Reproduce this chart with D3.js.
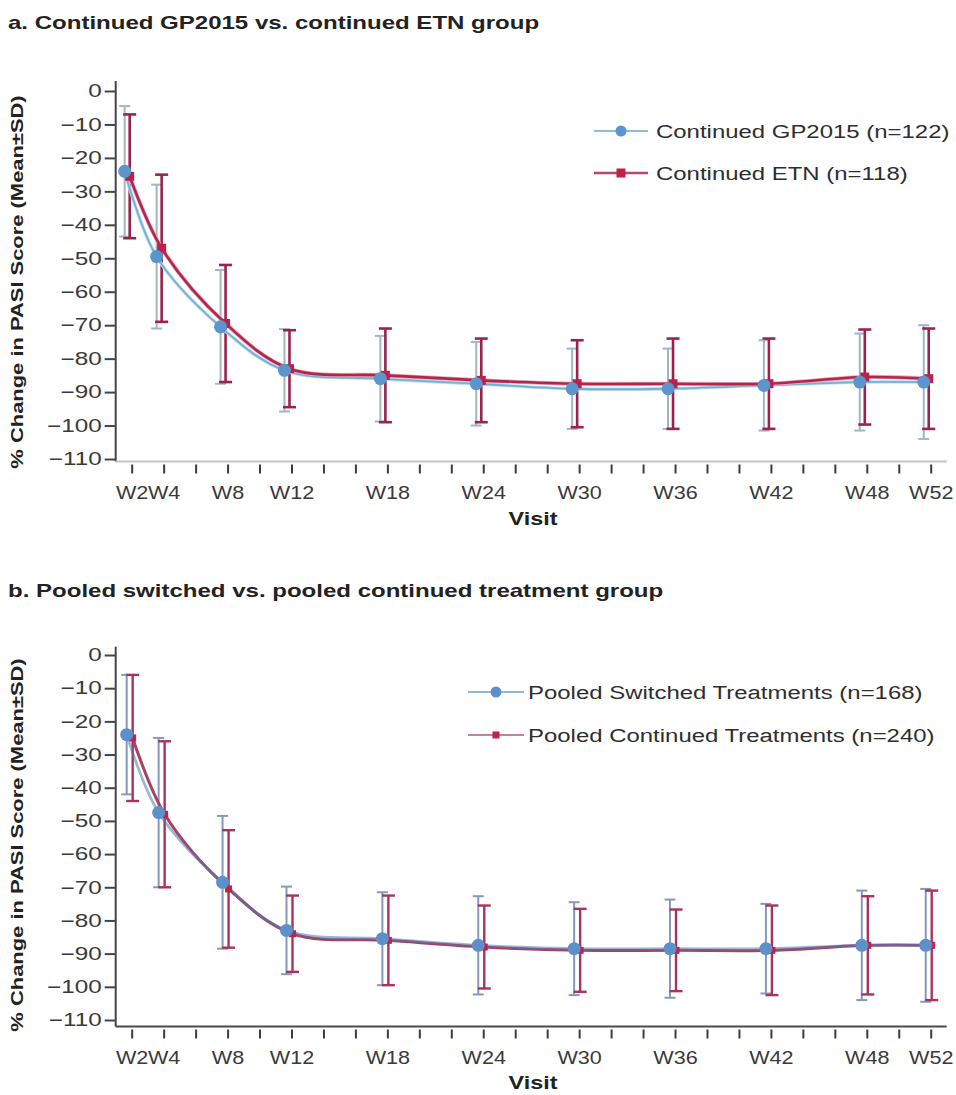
<!DOCTYPE html>
<html>
<head>
<meta charset="utf-8">
<script src="https://cdn.jsdelivr.net/npm/d3@7"></script>
<style>
  body { margin: 0; background: #fff; }
  svg { display: block; }
  text { font-family: "Liberation Sans", Arial, Helvetica, sans-serif; }
</style>
</head>
<body>
<svg id="chart" width="956" height="1095"></svg>
<script>
// ---- data ----
const visitLabels = ["W2", "W4", "W8", "W12", "W18", "W24", "W30", "W36", "W42", "W48", "W52"];
const visitWeeks = [2, 4, 8, 12, 18, 24, 30, 36, 42, 48, 52];
const yTickValues = [0, -10, -20, -30, -40, -50, -60, -70, -80, -90, -100, -110];

// a. Continued GP2015 vs. continued ETN
const gp2015Mean = [-24, -49.5, -70.5, -83.5, -86, -87.5, -89, -89, -88, -87, -87];
const gp2015SD   = [19.5, 21.5, 17, 12.3, 12.8, 12.5, 12, 12, 13.5, 14.5, 17];
const etnMean    = [-25.5, -47, -69.5, -83, -85, -86.5, -87.5, -87.5, -87.5, -85.5, -86];
const etnSD      = [18.5, 22, 17.5, 11.5, 14, 12.5, 13, 13.5, 13.5, 14.2, 15];

// b. Pooled switched vs. pooled continued
const switchedMean  = [-24, -47.5, -68.5, -83, -85.5, -87.5, -88.5, -88.5, -88.5, -87.5, -87.5];
const switchedSD    = [18, 22.5, 20, 13.2, 14, 14.8, 14, 14.8, 13.5, 16.5, 17];
const continuedMean = [-25, -48, -70.5, -84, -86, -88, -89, -89, -89, -87.5, -87.5];
const continuedSD   = [19, 22, 17.7, 11.5, 13.5, 12.5, 12.5, 12.3, 13.5, 14.8, 16.5];

const panelTitles = [
  "a. Continued GP2015 vs. continued ETN group",
  "b. Pooled switched vs. pooled continued treatment group"
];
const legendA = ["Continued GP2015 (n=122)", "Continued ETN (n=118)"];
const legendB = ["Pooled Switched Treatments (n=168)", "Pooled Continued Treatments (n=240)"];
const yAxisTitle = "% Change in PASI Score (Mean\u00B1SD)";
const xAxisTitle = "Visit";

// ---- drawing ----
const svg = d3.select("#chart");
svg.append("rect").attr("width", 956).attr("height", 1095).attr("fill", "#fff");

// Helvetica-like wide lettering: Liberation Sans widened along the text direction
function label(g, x, y, txt, o = {}) {
  const rot = o.rotate ? ` rotate(${o.rotate})` : "";
  return g.append("text")
    .attr("transform", `translate(${x},${y})${rot} scale(${o.sx || 1.28},1)`)
    .attr("text-anchor", o.anchor || "start")
    .attr("dy", o.dy || null)
    .attr("font-size", o.size || 18)
    .attr("font-weight", o.weight || "normal")
    .attr("fill", o.fill || "#333")
    .text(txt);
}

const x = d3.scaleLinear().domain([1, 53]).range([115.7, 946.7]);

const rows = (means, sds) => visitWeeks.map((w, i) => ({ w, m: means[i], sd: sds[i] }));

const panels = [
  {
    title: panelTitles[0], titleY: 29,
    y0: 91, y110: 459, xAxisY: 461.5, yTopVal: 3,
    xAxisColor: "#c4c4c4",
    legend: { x1: 594, x2: 648, tx: 656, ys: [131, 173] },
    legendText: legendA,
    blue: { data: rows(gp2015Mean, gp2015SD), dx: -7, line: "#72b0da", lineW: 1.8,
            halo: "#bcdcef", bar: "#a4b2cc", barW: 2, cap: 11, marker: "#5b95cc",
            legLine: "#6fa0d0", legLineW: 1.6 },
    red:  { data: rows(etnMean, etnSD), dx: -2, line: "#b2264b", lineW: 2.6,
            halo: "#e6aabb", bar: "#9a2449", barW: 2.6, cap: 13, marker: "#c01f48",
            legLine: "#b44a66", legLineW: 2.6, sq: 9 },
    yLabelCy: 282, xTitleY: 525
  },
  {
    title: panelTitles[1], titleY: 597,
    y0: 655, y110: 1020, xAxisY: 1026.5, yTopVal: 2.5,
    xAxisColor: "#4a4a4a",
    legend: { x1: 468, x2: 524, tx: 528, ys: [692, 735] },
    legendText: legendB,
    blue: { data: rows(switchedMean, switchedSD), dx: -5, line: "#4f78b4", lineW: 2.8,
            halo: null, bar: "#8798bd", barW: 2, cap: 11, marker: "#5b90cb",
            legLine: "#6c9ccf", legLineW: 1.5, opacity: 0.55 },
    red:  { data: rows(continuedMean, continuedSD), dx: 1, line: "#a6435f", lineW: 3,
            halo: null, bar: "#a8345a", barW: 2.4, cap: 13, marker: "#c0234a",
            legLine: "#b05a70", legLineW: 1.5, sq: 7 },
    yLabelCy: 845, xTitleY: 1089
  }
];

panels.forEach((p, pi) => {
  const g = svg.append("g");
  const y = d3.scaleLinear().domain([-110, 0]).range([p.y110, p.y0]);

  // panel title
  label(g, 8, p.titleY, p.title, { size: 18, weight: "bold", fill: "#222", sx: 1.335 });

  // y axis
  const yAxis = g.append("g").attr("transform", `translate(${x(1)},0)`)
    .call(d3.axisLeft(y).tickValues(yTickValues).tickSize(11).tickPadding(3)
      .tickFormat(d => d === 0 ? "0" : "\u2212" + Math.abs(d)));
  yAxis.select(".domain").remove();
  yAxis.selectAll(".tick line").attr("stroke", "#444").attr("stroke-width", 2);
  yAxis.selectAll(".tick text")
    .attr("font-size", 18).attr("fill", "#3a3a3a").attr("font-family", null)
    .each(function () {
      const t = d3.select(this);
      const sx = 1.35;
      t.attr("x", +t.attr("x") / sx).attr("transform", `scale(${sx},1)`);
    });
  g.append("line")
    .attr("x1", x(1)).attr("x2", x(1))
    .attr("y1", y(p.yTopVal)).attr("y2", p.xAxisY)
    .attr("stroke", "#444").attr("stroke-width", 2);

  // x axis
  const weekTicks = d3.range(2, 53, 2);
  const xAxis = g.append("g").attr("transform", `translate(0,${p.xAxisY})`)
    .call(d3.axisBottom(x).tickValues(weekTicks).tickSize(12)
      .tickFormat(w => { const i = visitWeeks.indexOf(w); return i >= 0 ? visitLabels[i] : ""; }));
  xAxis.select(".domain").remove();
  xAxis.selectAll(".tick line").attr("y1", 3).attr("stroke", "#3c3c3c").attr("stroke-width", 2);
  xAxis.selectAll(".tick text")
    .attr("y", 25).attr("font-size", 18).attr("fill", "#3a3a3a").attr("font-family", null)
    .attr("transform", "scale(1.2,1)");
  g.append("line")
    .attr("x1", x(1)).attr("x2", x(53))
    .attr("y1", p.xAxisY).attr("y2", p.xAxisY)
    .attr("stroke", p.xAxisColor).attr("stroke-width", 2);

  // axis titles
  label(g, 533, p.xTitleY, xAxisTitle, { size: 18, weight: "bold", anchor: "middle", fill: "#222", sx: 1.3 });
  label(g, 17, p.yLabelCy, yAxisTitle, { size: 17, weight: "bold", anchor: "middle", rotate: -90, dy: "0.35em", fill: "#222", sx: 1.29 });

  const series = [p.blue, p.red];

  // error bars (blue first, red over it)
  series.forEach(s => {
    const eb = g.append("g").attr("stroke", s.bar).attr("stroke-width", s.barW);
    s.data.forEach(d => {
      const cx = x(d.w) + s.dx;
      eb.append("line").attr("x1", cx).attr("x2", cx).attr("y1", y(d.m + d.sd)).attr("y2", y(d.m - d.sd));
      [d.m + d.sd, d.m - d.sd].forEach(v => {
        eb.append("line").attr("x1", cx - s.cap / 2).attr("x2", cx + s.cap / 2).attr("y1", y(v)).attr("y2", y(v));
      });
    });
  });

  // lines
  const lineGen = s => d3.line().curve(d3.curveCatmullRom.alpha(0.5))
    .x(d => x(d.w) + s.dx).y(d => y(d.m))(s.data);
  const draw = (s, op) => {
    if (s.halo) {
      g.append("path").attr("d", lineGen(s)).attr("fill", "none")
        .attr("stroke", s.halo).attr("stroke-width", s.lineW + 1.6);
    }
    g.append("path").attr("d", lineGen(s)).attr("fill", "none")
      .attr("stroke", s.line).attr("stroke-width", s.lineW).attr("opacity", op);
  };
  if (pi === 0) {
    draw(p.blue, 1);
    draw(p.red, 1);
  } else {
    draw(p.red, 1);
    draw(p.blue, p.blue.opacity);
  }

  // markers: red squares under blue circles
  g.append("g").selectAll("rect").data(p.red.data).join("rect")
    .attr("x", d => x(d.w) + p.red.dx - p.red.sq / 2).attr("y", d => y(d.m) - p.red.sq / 2)
    .attr("width", p.red.sq).attr("height", p.red.sq).attr("fill", p.red.marker);
  g.append("g").selectAll("circle").data(p.blue.data).join("circle")
    .attr("cx", d => x(d.w) + p.blue.dx).attr("cy", d => y(d.m)).attr("r", 6.5)
    .attr("fill", p.blue.marker);

  // legend
  const L = p.legend;
  const mid = (L.x1 + L.x2) / 2;
  g.append("line").attr("x1", L.x1).attr("x2", L.x2).attr("y1", L.ys[0]).attr("y2", L.ys[0])
    .attr("stroke", p.blue.legLine).attr("stroke-width", p.blue.legLineW);
  g.append("circle").attr("cx", mid).attr("cy", L.ys[0]).attr("r", 5.5).attr("fill", p.blue.marker);
  g.append("line").attr("x1", L.x1).attr("x2", L.x2).attr("y1", L.ys[1]).attr("y2", L.ys[1])
    .attr("stroke", p.red.legLine).attr("stroke-width", p.red.legLineW);
  g.append("rect").attr("x", mid - p.red.sq / 2).attr("y", L.ys[1] - p.red.sq / 2)
    .attr("width", p.red.sq).attr("height", p.red.sq).attr("fill", p.red.marker);
  p.legendText.forEach((t, i) => {
    label(g, L.tx, L.ys[i], t, { size: 19, dy: "0.35em", sx: 1.26, fill: "#2e2e2e" });
  });
});
</script>
</body>
</html>
